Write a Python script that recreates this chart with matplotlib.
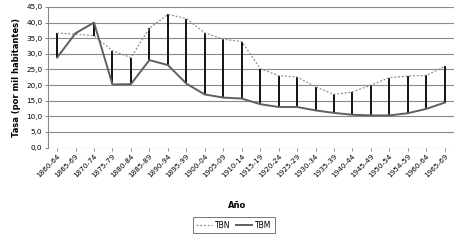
import numpy as np
import matplotlib.pyplot as plt

periodos = ["1860-64", "1865-69", "1870-74", "1875-79", "1880-84", "1885-89",
            "1890-94", "1895-99", "1900-04", "1905-09", "1910-14", "1915-19",
            "1920-24", "1925-29", "1930-34", "1935-39", "1940-44", "1945-49",
            "1950-54", "1954-59", "1960-64", "1965-69"]
tbn = [36.6, 36.3, 35.8, 31.0, 28.8, 38.2, 42.6, 41.3, 36.7, 34.7, 33.9, 25.3,
       23.0, 22.6, 19.5, 17.0, 17.8, 20.0, 22.4, 22.9, 23.1, 26.0]
tbm = [28.8, 36.6, 40.0, 20.2, 20.3, 28.0, 26.4, 20.5, 17.0, 16.0, 15.7, 13.9,
       13.0, 13.0, 11.9, 11.1, 10.5, 10.3, 10.3, 11.0, 12.4, 14.4]
yticks = np.arange(0, 46, 5)

plt.rcParams['font.family'] = ['DejaVu Sans']

fig = plt.figure(figsize=(4.6, 2.4), dpi=100)
ax = fig.add_axes([0.104, 0.385, 0.883, 0.586])

x = np.arange(len(periodos))

# lineas de maximo-minimo entre las dos series
ax.vlines(x, tbm, tbn, color='black', lw=1.3, zorder=3)
ax.plot(x, tbn, color='#8c8c8c', lw=0.9, ls=(0, (1.5, 1.5)), label='TBN', zorder=4)
ax.plot(x, tbm, color='#5f5f5f', lw=1.4, label='TBM', zorder=4)

ax.set_xlim(-0.5, len(periodos) - 0.5)
ax.set_ylim(0, 45)
ax.set_yticks(yticks)
ax.set_yticklabels([f"{v:.1f}".replace('.', ',') for v in yticks], fontsize=5.2)
ax.set_xticks(x)
ax.set_xticklabels(periodos, rotation=45, ha='right', rotation_mode='anchor', fontsize=5.2)
ax.tick_params(axis='both', length=2, width=0.7, color='#888888', pad=2)

ax.yaxis.grid(True, color='#8a8a8a', lw=0.8)
ax.set_axisbelow(True)
for s in ['top', 'right', 'bottom']:
    ax.spines[s].set_visible(False)
ax.spines['left'].set_color('#888888')
ax.spines['left'].set_linewidth(0.8)

ax.set_ylabel("Tasa (por mil habitantes)", fontsize=6, fontweight='bold', labelpad=4)
fig.text(0.515, 0.145, "Año", fontsize=6, fontweight='bold', ha='center', va='center')

leg = fig.legend(loc='center', bbox_to_anchor=(0.508, 0.062), ncol=2, fontsize=5.5,
                 frameon=True, fancybox=False, edgecolor='#555555',
                 handlelength=2.0, columnspacing=0.8, handletextpad=0.4,
                 borderpad=0.5)
leg.get_frame().set_linewidth(0.7)

fig.savefig("out.png", dpi=100)
